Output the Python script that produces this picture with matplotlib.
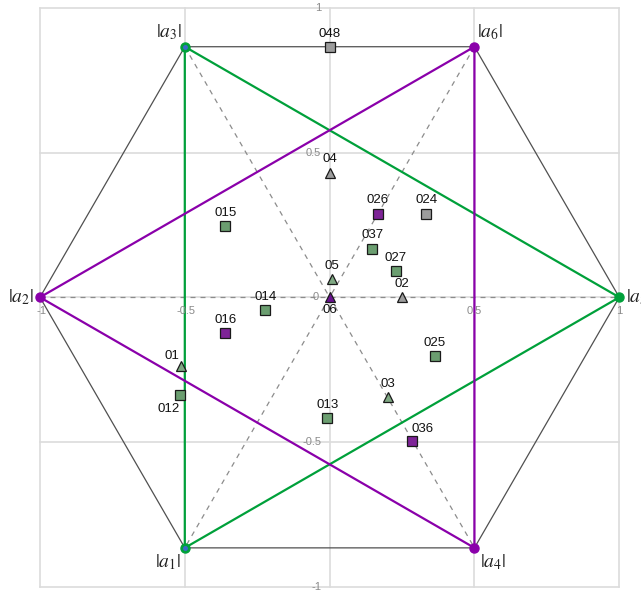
import numpy as np
import matplotlib
matplotlib.use("Agg")
import matplotlib.pyplot as plt

plt.rcParams["mathtext.fontset"] = "stix"

# Hexagon vertices |a1| ... |a6| (unit circle)
vertex_names = ["a_1", "a_2", "a_3", "a_4", "a_5", "a_6"]
vertex_angles_deg = [240, 180, 120, 300, 0, 60]
vertex_colors = ["#00a03a", "#8a00aa", "#00a03a", "#8a00aa", "#00a03a", "#8a00aa"]

# Labelled states: square / triangle markers
sq_labels = ["048", "024", "026", "037", "027", "015", "014", "016", "012",
             "013", "025", "036"]
sq_x = [0.0, 0.333, 0.167, 0.148, 0.228, -0.36, -0.222, -0.36, -0.517,
        -0.008, 0.363, 0.286]
sq_y = [0.866, 0.289, 0.289, 0.168, 0.090, 0.247, -0.045, -0.123, -0.337,
        -0.418, -0.203, -0.495]
sq_kind = ["gray", "gray", "purple", "green", "green", "green", "green",
           "purple", "green", "green", "green", "purple"]

tri_labels = ["04", "05", "06", "02", "01", "03"]
tri_x = [0.0, 0.009, 0.0, 0.25, -0.512, 0.2]
tri_y = [0.431, 0.062, 0.0, 0.0, -0.238, -0.346]
tri_kind = ["gray", "green", "purple", "gray", "green", "green"]

tick_vals = [-1, -0.5, 0, 0.5, 1]
tick_text = ["-1", "-0.5", "0", "0.5", "1"]

fill = {"green": "#6b9e70", "gray": "#9c9c9c", "purple": "#7e2497"}
tri_fill = {"green": "#7fa883", "gray": "#9c9c9c", "purple": "#6a1490"}

fig = plt.figure(figsize=(6.41, 5.93), dpi=100)
ax = fig.add_axes([0, 0, 1, 1])
ax.set_xlim(-1.138, 1.075)
ax.set_ylim(-1.022, 1.0275)
ax.axis("off")

grid_c = "#dcdcdc"
for v in tick_vals:
    ax.plot([v, v], [-1, 1], color=grid_c, lw=1.2, zorder=0)
    ax.plot([-1, 1], [v, v], color=grid_c, lw=1.2, zorder=0)

ang = np.deg2rad(vertex_angles_deg)
vx = np.cos(ang)
vy = np.sin(ang)
V = dict(zip(vertex_names, zip(vx, vy)))

# hexagon outline
order = ["a_5", "a_6", "a_3", "a_2", "a_1", "a_4", "a_5"]
ax.plot([V[n][0] for n in order], [V[n][1] for n in order],
        color="#505050", lw=0.9, zorder=1)

# dashed diagonals through the origin
for a, b in [("a_2", "a_5"), ("a_3", "a_4"), ("a_6", "a_1")]:
    ax.plot([V[a][0], V[b][0]], [V[a][1], V[b][1]], color="#8c8c8c",
            lw=0.9, ls=(0, (4, 4)), zorder=1)

# the two triangles
green_tri = ["a_1", "a_3", "a_5", "a_1"]
purple_tri = ["a_2", "a_4", "a_6", "a_2"]
ax.plot([V[n][0] for n in green_tri], [V[n][1] for n in green_tri],
        color="#00a03a", lw=1.6, zorder=2)
ax.plot([V[n][0] for n in purple_tri], [V[n][1] for n in purple_tri],
        color="#8a00aa", lw=1.6, zorder=2)

for n, c in zip(vertex_names, vertex_colors):
    ax.plot(*V[n], "o", ms=6.5, color=c, zorder=5, clip_on=False)
for n in ["a_1", "a_3"]:
    ax.plot(*V[n], "o", ms=2.5, color="#3a6acc", zorder=6)

# vertex labels
vlab_off = {"a_1": (-2.5, -10.5), "a_2": (-4.5, 0), "a_3": (-2, 10.5),
            "a_4": (4, -10.5), "a_5": (4.5, 0), "a_6": (2, 10.5)}
for n in vertex_names:
    dx, dy = vlab_off[n]
    ha = "right" if dx < 0 else "left"
    ax.annotate(rf"$|{n}|$", V[n], xytext=(dx, dy), textcoords="offset points",
                ha=ha, va="center", fontsize=14, color="#222222",
                annotation_clip=False)

# tick labels along axes
tick_font = dict(fontsize=8, color="#8a8a8a", family="Liberation Sans")
for v, t in zip(tick_vals, tick_text):
    if v == 0:
        ax.annotate(t, (0, 0), xytext=(-8, 0), textcoords="offset points",
                    ha="right", va="center", **tick_font)
        continue
    ax.annotate(t, (v, 0), xytext=(1 if v < 0 else 0, -10),
                textcoords="offset points", ha="center", va="center",
                **tick_font)
    ax.annotate(t, (0, v), xytext=(-6, 0), textcoords="offset points",
                ha="right", va="center", **tick_font)

# markers
for lab, x, y, k in zip(sq_labels, sq_x, sq_y, sq_kind):
    ax.plot(x, y, "s", ms=7, mfc=fill[k], mec="#1a1a1a", mew=0.9, zorder=7)
for lab, x, y, k in zip(tri_labels, tri_x, tri_y, tri_kind):
    ax.plot(x, y, "^", ms=6.5, mfc=tri_fill[k], mec="#1a1a1a", mew=0.9,
            zorder=7)

label_off = {"06": (0, -9.5), "012": (-8, -10), "01": (-7, 7.5),
             "036": (7, 8.5)}
lab_font = dict(fontsize=9.5, color="#111111", family="Liberation Sans")
for labs, xs, ys in [(sq_labels, sq_x, sq_y), (tri_labels, tri_x, tri_y)]:
    for lab, x, y in zip(labs, xs, ys):
        dx, dy = label_off.get(lab, (0, 9.5))
        ax.annotate(lab, (x, y), xytext=(dx, dy), textcoords="offset points",
                    ha="center", va="center", zorder=8, **lab_font)

fig.savefig("out.png", dpi=100)
